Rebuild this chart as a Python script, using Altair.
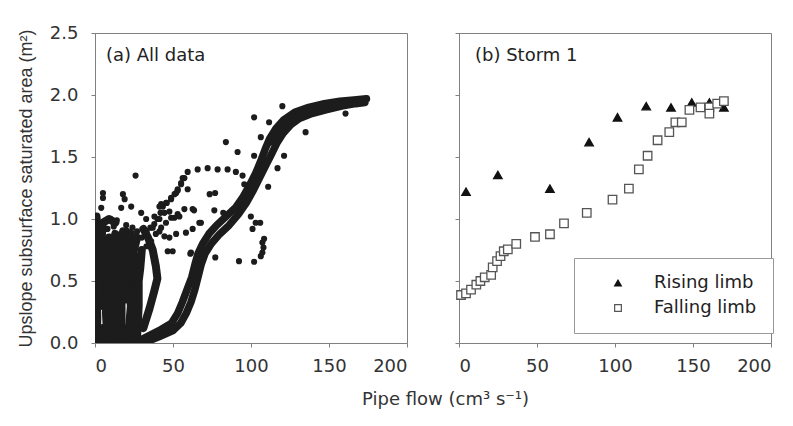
import altair as alt
import pandas as pd

# ---------------- Panel (a): All data ----------------
# dense bands of overlapping observations (flow cm3/s, area m2), read along their centre lines
band_c1 = [(18, 0.0), (30, 0.03), (41, 0.1), (49, 0.16), (53, 0.24), (56, 0.33), (59, 0.43), (62, 0.53),
           (64, 0.63), (66, 0.72), (69, 0.8), (73, 0.88), (78, 0.95), (84, 1.02), (90, 1.09), (95, 1.18),
           (99, 1.27), (103, 1.37), (106, 1.46), (109, 1.56), (112, 1.65), (116, 1.73), (121, 1.8),
           (128, 1.86), (137, 1.9), (147, 1.93), (157, 1.95), (166, 1.96), (174, 1.97)]
band_c2 = [(22, 0.0), (33, 0.01), (41, 0.05), (50, 0.1), (55, 0.16), (58.5, 0.24), (61.5, 0.33), (64, 0.43),
           (66, 0.53), (68, 0.63), (70.5, 0.72), (74.5, 0.8), (80, 0.88), (86, 0.95), (92, 1.04), (97, 1.13),
           (101, 1.22), (105, 1.32), (109, 1.42), (113, 1.52), (116.5, 1.61), (120.5, 1.69), (125.5, 1.76),
           (131, 1.81), (139, 1.85), (148, 1.88), (158, 1.91), (167, 1.93), (173, 1.94)]
band_c3 = [(112, 1.62), (118, 1.72), (124, 1.79), (131, 1.835), (140, 1.87), (150, 1.9), (160, 1.925)]
band_l1 = [(1, 0.0), (1.5, 0.2), (1, 0.45), (2, 0.7), (1.5, 0.9), (1, 1.02)]
band_l2a = [(4, 0.0), (5, 0.12), (8, 0.12)]
band_l2b = [(4, 0.3), (5, 0.6), (4, 0.8), (5, 0.97), (9, 1.0), (13, 0.97)]
band_l3 = [(8, 0.0), (7, 0.25), (8, 0.45), (7.5, 0.65), (9, 0.85)]
band_l3b = [(10, 0.0), (11, 0.3), (12, 0.5), (11, 0.7), (13, 0.88)]
band_l4 = [(13, 0.0), (14, 0.3), (15, 0.5), (14, 0.66), (16, 0.8), (18, 0.9)]
band_l5 = [(17, 0.0), (17, 0.35), (18, 0.55), (17.5, 0.75), (20, 0.9)]
band_l6a = [(20, 0.0), (21, 0.12)]
band_l6b = [(20.5, 0.36), (21, 0.55), (20.5, 0.75), (23, 0.88)]
band_l7 = [(24, 0.0), (24, 0.3), (24.5, 0.5), (24, 0.7), (27, 0.85)]
band_l7b = [(22, 0.15), (23, 0.3), (22, 0.45)]
band_l8 = [(27, 0.05), (28, 0.3), (28, 0.5), (29, 0.6), (30, 0.75)]
band_lr = [(31, 0.12), (35, 0.28), (38, 0.42), (40, 0.52), (39, 0.62), (37, 0.75), (34, 0.85), (31, 0.92)]
band_b1 = [(0, 0.02), (25, 0.02)]
band_b2 = [(0, 0.06), (20, 0.07)]
band_f1 = [(3, 0.3), (2.5, 0.5), (3, 0.75), (3, 0.95)]
band_f2 = [(6, 0.0), (6.5, 0.1)]
band_f3 = [(15.5, 0.0), (15.5, 0.3), (16.5, 0.5), (16, 0.7)]
band_f4 = [(19, 0.35), (19.5, 0.55), (19, 0.75)]
band_f5 = [(26, 0.0), (26.5, 0.3), (27, 0.5), (27, 0.7)]
band_f6 = [(11, 0.05), (10, 0.2)]

curve_bands = {"c1": band_c1, "c2": band_c2, "c3": band_c3}
cluster_bands = {
    "l1": band_l1, "l2a": band_l2a, "l2b": band_l2b, "l3": band_l3, "l3b": band_l3b, "l4": band_l4,
    "l5": band_l5, "l6a": band_l6a, "l6b": band_l6b, "l7": band_l7, "l7b": band_l7b, "l8": band_l8,
    "lr": band_lr, "b1": band_b1, "b2": band_b2, "f1": band_f1, "f2": band_f2, "f3": band_f3,
    "f4": band_f4, "f5": band_f5, "f6": band_f6,
}

# individual, separately visible observations
loop_dots = [(56.2, 1.33), (59.4, 1.38), (65.8, 1.40), (72.2, 1.41), (78.6, 1.40), (85, 1.40),
             (90.3, 1.38), (94.6, 1.35), (95.7, 1.28), (45.6, 1.13), (48.8, 1.16), (52, 1.21), (53, 1.24),
             (55.2, 1.29)]
rise_dots_1 = [(33, 0.9), (35.5, 0.93), (38, 0.96), (40, 1.0), (42, 1.05), (43.5, 1.1), (46, 1.13),
               (48.8, 1.17), (51, 1.2), (53, 1.23), (55.2, 1.28), (57.3, 1.33)]
rise_dots_2 = [(33, 0.78), (36, 0.82), (39, 0.88), (42.4, 0.93), (45.5, 0.97), (48.8, 1.01), (53, 1.04),
               (57.3, 1.08), (62.6, 1.08)]
scatter_dots = [(26, 1.35), (17.9, 1.2), (5.1, 1.21), (5.1, 1.17), (4, 1.09), (16.8, 1.09), (23.2, 1.10),
                (19, 1.16), (29.6, 1.05), (32.8, 1.0), (38.1, 1.02), (41.3, 1.0), (44.5, 1.05),
                (42.4, 1.12), (41.3, 1.10), (47.7, 1.06), (50.9, 1.01), (54.1, 1.02), (59.4, 1.24),
                (58.3, 0.89), (62.6, 0.92), (61.5, 0.73), (49.8, 0.74), (46.6, 0.74), (32.8, 0.9),
                (37, 0.93), (41.3, 0.9), (44.5, 0.86), (47.7, 0.85), (52, 0.88), (66.9, 0.97),
                (73.5, 1.2), (77, 1.21), (63.5, 1.07), (76.5, 1.07), (82.2, 1.05), (67.9, 0.97),
                (61.1, 0.72), (77.1, 0.69), (92.3, 0.66), (102, 0.655), (106.3, 0.70), (107.3, 0.73),
                (108, 0.77), (107.3, 0.81), (108.4, 0.84), (99.9, 1.02), (103, 0.97), (105.9, 0.97),
                (101, 0.92), (83.9, 1.62), (91.4, 1.54), (102, 1.51), (106.3, 1.66), (111.6, 1.78),
                (102, 1.82), (120.1, 1.91), (121.2, 1.51), (117, 1.41), (111, 1.26), (135, 1.70),
                (160.6, 1.85), (8, 0.92), (12, 0.94), (14, 0.99), (10, 1.0), (20, 0.95), (24, 0.93),
                (27, 0.9), (30, 0.85)]

# ---------------- Panel (b): Storm 1 ----------------
rising_flow = [4.5, 24.9, 58.3, 83.4, 101.6, 120, 135.9, 149.2, 160.5, 169.8]
rising_area = [1.22, 1.355, 1.245, 1.62, 1.82, 1.91, 1.90, 1.94, 1.94, 1.90]
falling_flow = [1.3, 4.5, 7.7, 11.1, 13.7, 16.5, 20.6, 21.6, 24.4, 26.6, 28.7, 31.3, 36.7, 48.7, 58.3,
                67.3, 81.9, 98.4, 108.9, 115.3, 120.9, 127.3, 134.8, 138.7, 142.8, 147.7, 154.8, 160.5,
                160.5, 165.5, 169.8]
falling_area = [0.387, 0.40, 0.43, 0.47, 0.50, 0.53, 0.55, 0.61, 0.66, 0.70, 0.74, 0.755, 0.80, 0.855,
                0.877, 0.965, 1.05, 1.156, 1.245, 1.40, 1.51, 1.635, 1.70, 1.78, 1.78, 1.88, 1.90, 1.90,
                1.85, 1.93, 1.95]

panel_labels = ["(a) All data", "(b) Storm 1"]
x_ticks = [0, 50, 100, 150, 200]
y_ticks = [0.0, 0.5, 1.0, 1.5, 2.0, 2.5]


# ---------------- build tables ----------------
def band_table(bdict):
    rows = []
    for name, pts in bdict.items():
        for i, (f, a) in enumerate(pts):
            rows.append({"band": name, "order": i, "flow": f, "area": a})
    return pd.DataFrame(rows)


curve_df = band_table(curve_bands)
cluster_df = band_table(cluster_bands)
dot_df = pd.DataFrame(loop_dots + rise_dots_1 + rise_dots_2 + scatter_dots, columns=["flow", "area"])

storm_df = pd.concat([
    pd.DataFrame({"flow": rising_flow, "area": rising_area, "limb": "Rising limb"}),
    pd.DataFrame({"flow": falling_flow, "area": falling_area, "limb": "Falling limb"}),
], ignore_index=True)

# panel labels anchored at the top-left corner of each panel's data space
label_a_df = pd.DataFrame({"flow": [0], "area": [2.5], "text": [panel_labels[0]]})
label_b_df = pd.DataFrame({"flow": [0], "area": [2.5], "text": [panel_labels[1]]})

DOT = "#1c1c1c"
AX = "#808080"
TXT = "#333333"
W, H = 312, 310

x_scale = alt.Scale(domain=[0, 200], nice=False)
y_scale = alt.Scale(domain=[0, 2.5], nice=False)

x_axis_left = alt.Axis(values=x_ticks, format="d", title="Pipe flow (cm³ s⁻¹)", titleX=350, titleY=61,
                       titleAlign="center", titleBaseline="alphabetic")
x_axis_right = alt.Axis(values=x_ticks, format="d", title=None)
y_axis_left = alt.Axis(values=y_ticks, format=".1f", title="Upslope subsurface saturated area (m²)",
                       titleFont="Liberation Sans", titleFontSize=18, titlePadding=14, labelPadding=13)
y_axis_right = alt.Axis(values=y_ticks, labels=False, title=None)


def label_layer(df, dx):
    return alt.Chart(df).mark_text(align="left", baseline="alphabetic", dx=dx, dy=28, fontSize=18,
                                   font="DejaVu Sans", color="#222222").encode(
        x=alt.X("flow:Q", scale=x_scale),
        y=alt.Y("area:Q", scale=y_scale),
        text="text:N",
    )


def band_layer(df, width):
    return alt.Chart(df).mark_line(color=DOT, strokeWidth=width, strokeCap="round", strokeJoin="round",
                                   clip=True).encode(
        x=alt.X("flow:Q", scale=x_scale, axis=x_axis_left),
        y=alt.Y("area:Q", scale=y_scale, axis=y_axis_left),
        detail="band:N",
        order="order:Q",
    )


dots_a = alt.Chart(dot_df).mark_circle(color=DOT, size=38, opacity=1, clip=True).encode(
    x=alt.X("flow:Q", scale=x_scale, axis=x_axis_left),
    y=alt.Y("area:Q", scale=y_scale, axis=y_axis_left),
)
panel_a = alt.layer(band_layer(curve_df, 7.5), band_layer(cluster_df, 8), dots_a,
                    label_layer(label_a_df, 11)).properties(width=W, height=H)

limbs = ["Rising limb", "Falling limb"]
points_b = alt.Chart(storm_df).mark_point(size=72, opacity=1, fillOpacity=1, strokeWidth=1.3).encode(
    x=alt.X("flow:Q", scale=x_scale, axis=x_axis_right),
    y=alt.Y("area:Q", scale=y_scale, axis=y_axis_right),
    shape=alt.Shape("limb:N", scale=alt.Scale(domain=limbs, range=["triangle-up", "square"]), title=None),
    fill=alt.Fill("limb:N", scale=alt.Scale(domain=limbs, range=["#111111", "#ffffff"]), title=None),
    stroke=alt.Stroke("limb:N", scale=alt.Scale(domain=limbs, range=["#111111", "#555555"]), title=None,
                      legend=alt.Legend(orient="none", legendX=115, legendY=225, padding=16,
                                        strokeColor="#999999", fillColor="white", symbolOffset=19,
                                        labelOffset=27, rowPadding=7, symbolSize=45,
                                        symbolStrokeWidth=1.2, labelFontSize=18, labelFont="DejaVu Sans",
                                        labelColor="#222222")),
)
panel_b = alt.layer(points_b, label_layer(label_b_df, 16)).properties(width=W, height=H)

chart = alt.hconcat(panel_a, panel_b, spacing=52, bounds="flush").resolve_scale(
    shape="independent", fill="independent", stroke="independent").properties(
    padding={"left": 8, "top": 15, "right": 5, "bottom": 5},
    background="white",
).configure_view(
    stroke=AX, strokeWidth=1,
).configure_axis(
    domainColor=AX, tickColor=AX, tickSize=4, grid=False,
    labelFont="DejaVu Sans", labelFontSize=18, labelColor=TXT, labelPadding=10,
    titleFont="DejaVu Sans", titleFontSize=18, titleColor=TXT, titleFontWeight="normal",
).configure_legend(
    labelFont="DejaVu Sans", labelFontSize=18,
)

chart.save("out.html", embed_options={"renderer": "svg", "actions": False})
